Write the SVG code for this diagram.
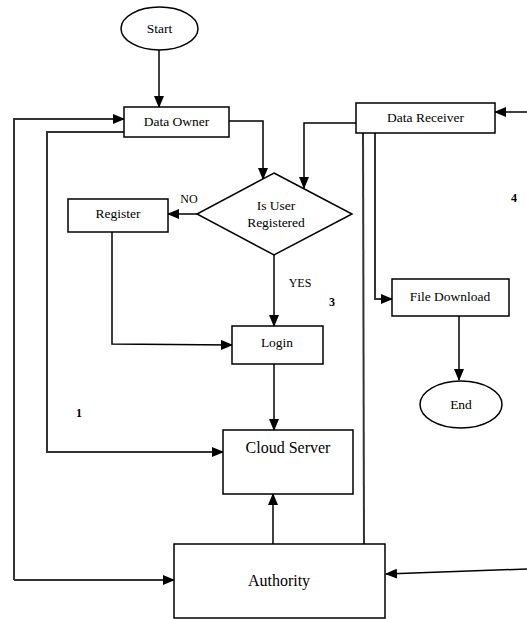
<svg xmlns="http://www.w3.org/2000/svg" width="527" height="619" viewBox="0 0 527 619">
<defs>
<marker id="ah" markerUnits="userSpaceOnUse" markerWidth="12" markerHeight="10" refX="11" refY="5" orient="auto">
<path d="M0,0 L12,5 L0,10 Z" fill="#000"/>
</marker>
<style>
.box{fill:#fff;stroke:#000;stroke-width:1.5}
.t{font-family:"Liberation Serif","Times New Roman",serif;font-size:13.5px;fill:#000;text-anchor:middle}
.tl{font-family:"Liberation Serif","Times New Roman",serif;font-size:16px;fill:#000;text-anchor:middle}
.n{font-family:"Liberation Serif","Times New Roman",serif;font-size:12px;font-weight:bold;fill:#000;text-anchor:middle}
.c{fill:none;stroke:#000;stroke-width:1.5}
.g{fill:none;stroke:#333;stroke-width:2}
</style>
</defs>
<rect width="527" height="619" fill="#fff"/>
<g id="connectors">
<path class="c" d="M159,50 L159,107" marker-end="url(#ah)"/>
<path class="c" d="M229,121 L263,121 L263,179" marker-end="url(#ah)"/>
<path class="c" d="M356,123 L304,123 L304,188" marker-end="url(#ah)"/>
<path class="c" d="M527,112 L495,112" marker-end="url(#ah)"/>
<path class="c" d="M197,214 L168,214" marker-end="url(#ah)"/>
<path class="c" d="M274,255 L274,326" marker-end="url(#ah)"/>
<path class="c" d="M112,232 L112,344 L232,345" marker-end="url(#ah)"/>
<path class="c" d="M274,364 L274,430" marker-end="url(#ah)"/>
<path class="c" d="M273,545 L273,494" marker-end="url(#ah)"/>
<path class="g" d="M14,580 L14,119 L124,119" marker-end="url(#ah)"/>
<path class="g" d="M14,580 L174,580" marker-end="url(#ah)"/>
<path class="g" d="M124,132 L47,132 L47,452 L223,452" marker-end="url(#ah)"/>
<path class="g" d="M363,133 L364,545"/>
<path class="g" d="M375,133 L375,299 L392,299" marker-end="url(#ah)"/>
<path class="c" d="M459,316 L459,380" marker-end="url(#ah)"/>
<path class="c" d="M527,569 L386,574" marker-end="url(#ah)"/>
</g>
<g id="start"><ellipse cx="159.5" cy="28.5" rx="38.5" ry="21.5" class="box"/><text class="t" x="159.5" y="33">Start</text></g>
<g id="data-owner"><rect class="box" x="124" y="107" width="105" height="30"/><text class="t" x="176.5" y="126">Data Owner</text></g>
<g id="data-receiver"><rect class="box" x="356" y="103" width="139" height="30"/><text class="t" x="425.5" y="122">Data Receiver</text></g>
<g id="decision"><polygon class="box" points="274,173 352,214 274,255 197,214"/><text class="t" x="276" y="210">Is User</text><text class="t" x="276" y="227">Registered</text></g>
<g id="register"><rect class="box" x="68" y="199" width="100" height="33"/><text class="t" x="118" y="218">Register</text></g>
<g id="login"><rect class="box" x="232" y="326" width="91" height="38"/><text class="t" x="277" y="347">Login</text></g>
<g id="file-download"><rect class="box" x="392" y="279" width="117" height="37"/><text class="t" x="450" y="301">File Download</text></g>
<g id="end"><ellipse cx="461" cy="404.5" rx="41" ry="23.5" class="box"/><text class="t" x="461" y="409">End</text></g>
<g id="cloud-server"><rect class="box" x="223" y="430" width="130" height="64"/><text class="tl" x="288" y="453">Cloud Server</text></g>
<g id="authority"><rect class="box" x="174" y="544" width="211" height="74"/><text class="tl" x="279" y="586">Authority</text></g>
<g id="labels">
<text class="t" x="189" y="203" style="font-size:12px">NO</text>
<text class="t" x="300" y="287" style="font-size:12px">YES</text>
<text class="n" x="332" y="306">3</text>
<text class="n" x="514" y="202">4</text>
<text class="n" x="79" y="417">1</text>
</g>
</svg>
